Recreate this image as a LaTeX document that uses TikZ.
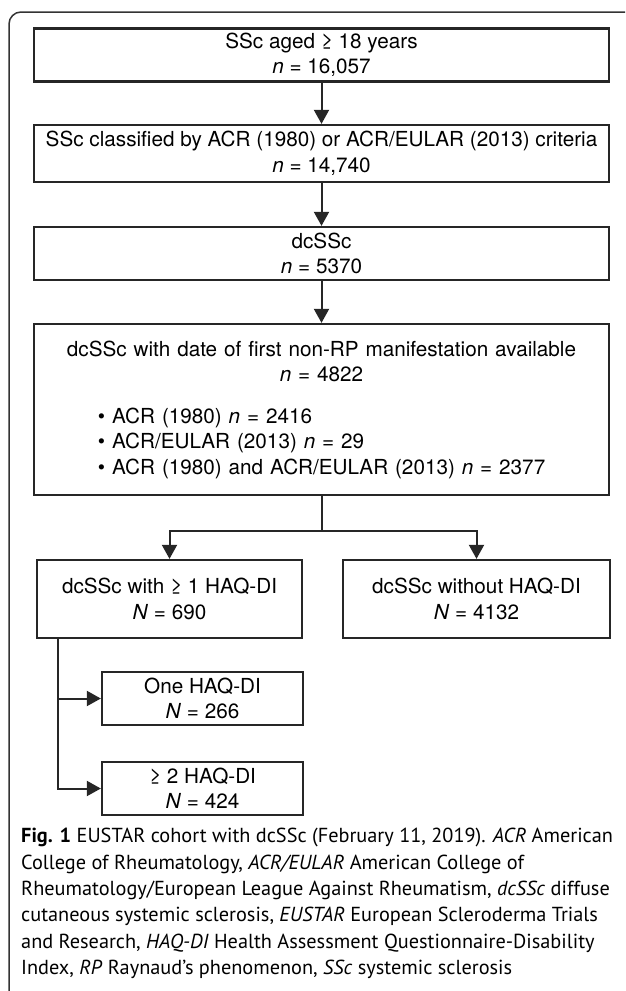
\documentclass[tikz,border=0pt]{standalone}
\usepackage{fontspec}
\setmainfont{TeX Gyre Heros}
\newfontfamily\captionfont{PT Sans}
\usetikzlibrary{arrows.meta}
\usetikzlibrary{positioning}

\begin{document}
\begin{tikzpicture}[x=1pt, y=-1pt,
  box/.style={rectangle, draw=black!85, line width=2.3pt, inner sep=0pt, align=center,
    font=\fontsize{20.7}{25.5}\selectfont},
  flow/.style={-{Triangle[length=14pt,width=15pt]}, draw=black!85, line width=2pt}]
 \useasboundingbox (0,0) rectangle (625,991);
 \draw [rounded corners=12pt, draw=black!80, line width=1.5pt] (9,991) |- (625,12);
 \node [box, minimum width=575pt, minimum height=53pt] (S1) at (321.5,55) {SSc aged ≥ 18 years\\ \textit{n} = 16,057};
 \node [box, minimum width=575pt, minimum height=57pt] (S2) at (321.5,153.5) {SSc classified by ACR (1980) or ACR/EULAR (2013) criteria\\ \textit{n} = 14,740};
 \node [box, minimum width=575pt, minimum height=53pt] (S3) at (321.5,253.5) {dcSSc\\ \textit{n} = 5370};
 \node [box, minimum width=575pt, minimum height=171pt, text width=575pt] (S4) at (321.5,409.5) {\centering dcSSc with date of first non-RP manifestation available\\ \textit{n} = 4822\par\vspace{16pt}
  \raggedright\leftskip=64pt • ACR (1980) \textit{n} = 2416\\ • ACR/EULAR (2013) \textit{n} = 29\\ • ACR (1980) and ACR/EULAR (2013) \textit{n} = 2377\par};
 \node [box, minimum width=265pt, minimum height=78pt] (S5) at (169.5,599) {dcSSc with ≥ 1 HAQ-DI\\ \textit{N} = 690};
 \node [box, minimum width=267pt, minimum height=78pt] (S6) at (476.5,599) {dcSSc without HAQ-DI\\ \textit{N} = 4132};
 \node [box, minimum width=201pt, minimum height=53pt] (S7) at (202.5,698.5) {One HAQ-DI\\ \textit{N} = 266};
 \node [box, minimum width=201pt, minimum height=53pt] (S8) at (202.5,788.5) {≥ 2 HAQ-DI\\ \textit{N} = 424};
 \draw [flow] (S1) -- (S2);
 \draw [flow] (S2) -- (S3);
 \draw [flow] (S3) -- (S4);
 \draw [draw=black!85, line width=2pt] (S4.south) -- ++(0,35) coordinate (B);
 \draw [flow] (B) -| (S5);
 \draw [flow] (B) -| (S6);
 \draw [flow] ([xshift=22pt]S5.south west) |- (S7);
 \draw [flow] ([xshift=22pt]S5.south west) |- (S8);
 \node [anchor=north west, inner sep=0pt, align=left,
   font=\captionfont\fontsize{20.3}{26.4}\selectfont] (cap) at (21,828)
   {\textbf{Fig. 1} EUSTAR cohort with dcSSc (February 11, 2019). \textit{ACR} American\\
    College of Rheumatology, \textit{ACR/EULAR} American College of\\
    Rheumatology/European League Against Rheumatism, \textit{dcSSc} diffuse\\
    cutaneous systemic sclerosis, \textit{EUSTAR} European Scleroderma Trials\\
    and Research, \textit{HAQ-DI} Health Assessment Questionnaire-Disability\\
    Index, \textit{RP} Raynaud’s phenomenon, \textit{SSc} systemic sclerosis};
\end{tikzpicture}
\end{document}
